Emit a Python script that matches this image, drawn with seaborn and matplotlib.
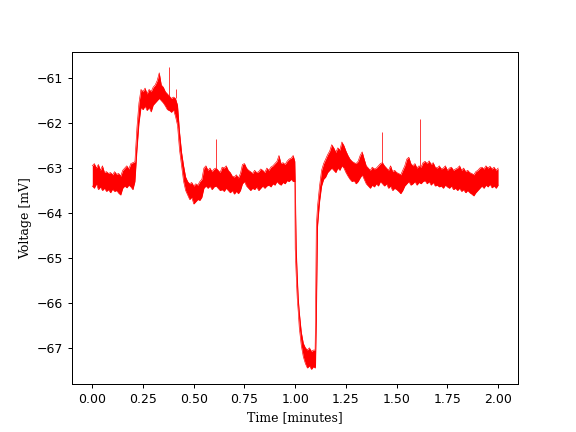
import numpy as np
import pandas as pd
import matplotlib
matplotlib.use("Agg")
import matplotlib.pyplot as plt
import seaborn as sns

# Envelope of the membrane-voltage trace
time = [
    0.00, 0.01, 0.02, 0.03, 0.04, 0.05, 0.06, 0.07, 0.08, 0.09,
    0.10, 0.11, 0.12, 0.13, 0.14, 0.15, 0.16, 0.17, 0.18, 0.19,
    0.20, 0.21, 0.22, 0.23, 0.24, 0.25, 0.26, 0.27, 0.28, 0.29,
    0.30, 0.31, 0.32, 0.33, 0.34, 0.35, 0.36, 0.37, 0.38, 0.39,
    0.40, 0.41, 0.42, 0.43, 0.44, 0.45, 0.46, 0.47, 0.48, 0.49,
    0.50, 0.51, 0.52, 0.53, 0.54, 0.55, 0.56, 0.57, 0.58, 0.59,
    0.60, 0.61, 0.62, 0.63, 0.64, 0.65, 0.66, 0.67, 0.68, 0.69,
    0.70, 0.71, 0.72, 0.73, 0.74, 0.75, 0.76, 0.77, 0.78, 0.79,
    0.80, 0.81, 0.82, 0.83, 0.84, 0.85, 0.86, 0.87, 0.88, 0.89,
    0.90, 0.91, 0.92, 0.93, 0.94, 0.95, 0.96, 0.97, 0.98, 0.99,
    0.998, 1.00, 1.005, 1.01, 1.015, 1.02, 1.03, 1.04, 1.05, 1.06,
    1.07, 1.08, 1.09, 1.098, 1.100, 1.104, 1.11, 1.12, 1.13, 1.14,
    1.15, 1.16, 1.17, 1.18, 1.19, 1.20, 1.21, 1.22, 1.23, 1.24,
    1.25, 1.26, 1.27, 1.28, 1.29, 1.30, 1.31, 1.32, 1.33, 1.34,
    1.35, 1.36, 1.37, 1.38, 1.39, 1.40, 1.41, 1.42, 1.43, 1.44,
    1.45, 1.46, 1.47, 1.48, 1.49, 1.50, 1.51, 1.52, 1.53, 1.54,
    1.55, 1.56, 1.57, 1.58, 1.59, 1.60, 1.61, 1.62, 1.63, 1.64,
    1.65, 1.66, 1.67, 1.68, 1.69, 1.70, 1.71, 1.72, 1.73, 1.74,
    1.75, 1.76, 1.77, 1.78, 1.79, 1.80, 1.81, 1.82, 1.83, 1.84,
    1.85, 1.86, 1.87, 1.88, 1.89, 1.90, 1.91, 1.92, 1.93, 1.94,
    1.95, 1.96, 1.97, 1.98, 1.99, 2.00,
]
v_low = [
    -63.40, -63.45, -63.35, -63.48, -63.42, -63.50, -63.45, -63.52, -63.48, -63.55,
    -63.47, -63.52, -63.50, -63.56, -63.60, -63.45, -63.40, -63.44, -63.38, -63.42,
    -63.48, -63.30, -62.60, -62.00, -61.65, -61.70, -61.62, -61.72, -61.65, -61.75,
    -61.60, -61.55, -61.50, -61.45, -61.50, -61.55, -61.62, -61.70, -61.72, -61.76,
    -61.70, -61.85, -62.05, -62.60, -62.95, -63.30, -63.50, -63.60, -63.70, -63.65,
    -63.80, -63.75, -63.70, -63.72, -63.65, -63.45, -63.40, -63.45, -63.40, -63.48,
    -63.42, -63.40, -63.45, -63.50, -63.48, -63.52, -63.45, -63.50, -63.55, -63.50,
    -63.58, -63.52, -63.57, -63.50, -63.35, -63.30, -63.40, -63.45, -63.50, -63.45,
    -63.48, -63.42, -63.50, -63.45, -63.40, -63.45, -63.40, -63.38, -63.42, -63.35,
    -63.38, -63.30, -63.35, -63.38, -63.32, -63.35, -63.28, -63.30, -63.25, -63.30,
    -63.30, -64.80, -65.40, -65.90, -66.20, -66.55, -66.95, -67.20, -67.35, -67.45,
    -67.40, -67.48, -67.42, -67.45, -67.40, -66.40, -64.30, -63.75, -63.40, -63.25,
    -63.20, -63.10, -63.05, -63.00, -63.05, -63.10, -63.00, -63.05, -62.95, -63.00,
    -63.10, -63.18, -63.25, -63.30, -63.28, -63.35, -63.30, -63.22, -63.15, -63.25,
    -63.35, -63.40, -63.45, -63.38, -63.42, -63.35, -63.40, -63.30, -63.35, -63.40,
    -63.35, -63.45, -63.40, -63.50, -63.45, -63.48, -63.52, -63.57, -63.50, -63.40,
    -63.35, -63.30, -63.38, -63.35, -63.30, -63.38, -63.32, -63.35, -63.30, -63.28,
    -63.35, -63.30, -63.38, -63.32, -63.40, -63.38, -63.42, -63.40, -63.45, -63.38,
    -63.42, -63.45, -63.40, -63.48, -63.45, -63.50, -63.45, -63.52, -63.48, -63.55,
    -63.50, -63.55, -63.58, -63.62, -63.55, -63.50, -63.45, -63.40, -63.45, -63.38,
    -63.42, -63.36, -63.44, -63.40, -63.45, -63.38,
]
v_high = [
    -62.95, -62.90, -63.00, -62.92, -63.05, -62.95, -63.10, -63.08, -63.12, -63.10,
    -63.15, -63.08, -63.14, -63.12, -63.18, -63.05, -63.00, -62.95, -63.02, -62.90,
    -62.88, -62.86, -62.10, -61.55, -61.25, -61.30, -61.22, -61.35, -61.25, -61.30,
    -61.20, -61.15, -61.05, -60.88, -61.15, -61.20, -61.30, -61.35, -61.40, -61.45,
    -61.42, -61.45, -61.60, -62.20, -62.65, -62.95, -63.20, -63.30, -63.35, -63.32,
    -63.40, -63.35, -63.38, -63.30, -63.25, -63.00, -62.95, -63.05, -63.00, -63.08,
    -63.02, -63.00, -63.05, -63.10, -62.98, -63.00, -62.95, -63.05, -63.10, -63.18,
    -63.20, -63.15, -63.22, -63.12, -62.92, -62.90, -63.00, -63.05, -63.08, -63.12,
    -63.05, -63.10, -63.08, -63.02, -63.05, -63.10, -63.00, -63.05, -62.98, -62.95,
    -62.90, -62.85, -62.72, -62.90, -62.88, -62.92, -62.85, -62.80, -62.78, -62.72,
    -62.85, -63.30, -64.80, -65.40, -65.90, -66.20, -66.65, -66.90, -67.00, -67.05,
    -67.00, -67.08, -67.05, -67.05, -66.40, -64.30, -63.85, -63.40, -63.05, -62.90,
    -62.80, -62.70, -62.62, -62.48, -62.55, -62.65, -62.55, -62.60, -62.42, -62.50,
    -62.62, -62.72, -62.80, -62.85, -62.88, -62.90, -62.85, -62.72, -62.64, -62.80,
    -62.95, -63.00, -63.05, -62.98, -63.02, -63.00, -62.95, -62.90, -62.88, -62.95,
    -63.00, -63.05, -62.95, -63.08, -63.05, -63.10, -63.12, -63.15, -63.05, -62.95,
    -62.80, -62.76, -62.90, -62.95, -62.90, -63.00, -62.95, -62.98, -62.88, -62.85,
    -62.90, -62.84, -62.92, -62.88, -62.98, -63.00, -62.95, -63.02, -63.00, -62.95,
    -63.05, -63.00, -62.98, -63.05, -63.02, -63.00, -62.95, -63.05, -63.00, -63.08,
    -63.05, -63.10, -63.12, -63.15, -63.08, -63.05, -63.00, -62.98, -63.02, -62.95,
    -63.00, -62.96, -63.02, -62.98, -63.05, -63.00,
]

# Short transient spikes
spike_time = [0.380, 0.414, 0.612, 1.429, 1.615]
spike_base = [-61.45, -61.45, -63.00, -62.90, -62.95]
spike_top = [-60.75, -61.23, -62.35, -62.20, -61.91]

df = pd.DataFrame({"time": time, "low": v_low, "high": v_high})

fig, ax = plt.subplots(figsize=(6.4, 4.8), dpi=90)
ax.fill_between(df["time"], df["low"], df["high"], color="red", linewidth=0)
sns.lineplot(data=df, x="time", y="high", ax=ax, color="red", linewidth=0.5)
sns.lineplot(data=df, x="time", y="low", ax=ax, color="red", linewidth=0.5)
ax.vlines(spike_time, spike_base, spike_top, color="red", linewidth=0.6)

ax.set_xticks([0.0, 0.25, 0.5, 0.75, 1.0, 1.25, 1.5, 1.75, 2.0])
ax.set_xticklabels(["0.00", "0.25", "0.50", "0.75", "1.00", "1.25", "1.50", "1.75", "2.00"])
ax.set_xlabel("Time [minutes]", family="DejaVu Serif", fontsize=10)
ax.set_ylabel("Voltage [mV]", family="DejaVu Serif", fontsize=10)

fig.savefig("out.png", dpi=90)
